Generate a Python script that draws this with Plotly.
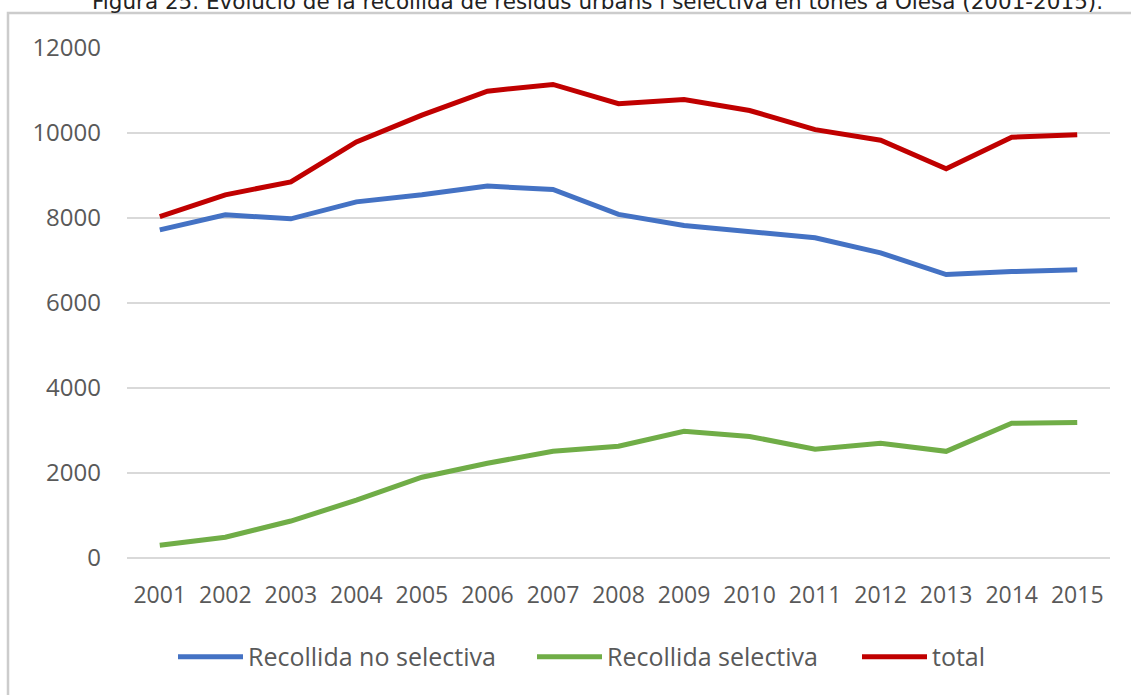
import plotly.graph_objects as go

years = [str(y) for y in range(2001, 2016)]
no_selectiva = [7720, 8075, 7980, 8380, 8545, 8752, 8670, 8086, 7825, 7670, 7535, 7180, 6670, 6740, 6780]
selectiva = [300, 490, 870, 1360, 1900, 2230, 2510, 2630, 2980, 2860, 2560, 2700, 2510, 3170, 3190]
total = [8030, 8545, 8850, 9790, 10420, 10985, 11142, 10690, 10790, 10530, 10080, 9830, 9160, 9900, 9960]
y_ticks = [0, 2000, 4000, 6000, 8000, 10000, 12000]

names = ["Recollida no selectiva", "Recollida selectiva", "total"]
colors = ["#4472C4", "#70AD47", "#C00000"]
title_text = "Figura 25. Evolució de la recollida de residus urbans i selectiva en tones a Olesa (2001-2015)."

W, H = 1131, 695
L, R, T, B = 127, 21, 47.5, 137
pw, ph = W - L - R, H - T - B

def px_x(p):
    return (p - L) / pw

def px_y(p):
    return (H - B - p) / ph

legend_ids = ["legend", "legend2", "legend3"]
legend_px = [173, 532, 857]

fig = go.Figure()
for name, vals, col, lid in zip(names, [no_selectiva, selectiva, total], colors, legend_ids):
    fig.add_trace(go.Scatter(x=years, y=vals, name=name, mode="lines", legend=lid,
                             line=dict(color=col, width=5)))

font_family = "Open Sans, Liberation Sans, sans-serif"

legend_common = dict(orientation="h", xanchor="left", y=px_y(657), yanchor="middle",
                     font=dict(size=25, color="#595959"), itemwidth=65,
                     bgcolor="rgba(0,0,0,0)", borderwidth=0)

fig.update_layout(
    width=W, height=H,
    margin=dict(l=L, r=R, t=T, b=B, autoexpand=False),
    paper_bgcolor="white", plot_bgcolor="white",
    font=dict(family=font_family, color="#595959", size=24),
    showlegend=True,
    legend=dict(x=px_x(legend_px[0]), **legend_common),
    legend2=dict(x=px_x(legend_px[1]), **legend_common),
    legend3=dict(x=px_x(legend_px[2]), **legend_common),
    xaxis=dict(type="category", range=[-0.5, len(years) - 0.5], showgrid=False, zeroline=False,
               showline=False, ticks="", automargin=False,
               tickfont=dict(size=23, color="#595959"), ticklabelstandoff=21),
    yaxis=dict(range=[0, 12000], tickvals=y_ticks, ticktext=[str(v) for v in y_ticks],
               showgrid=True, gridcolor="#D9D9D9", gridwidth=1.5, zeroline=True,
               zerolinecolor="#D9D9D9", zerolinewidth=1.5, showline=False, ticks="",
               automargin=False,
               tickfont=dict(size=24, color="#595959"), ticklabelstandoff=25),
)

fig.add_shape(type="rect", xref="paper", yref="paper",
              x0=px_x(8), x1=px_x(1145), y0=px_y(710), y1=px_y(12.5),
              line=dict(color="#CCCCCC", width=2.5), fillcolor="rgba(0,0,0,0)", layer="below")

fig.add_annotation(text=title_text, xref="paper", yref="paper",
                   x=px_x(597), y=px_y(1), xanchor="center", yanchor="middle",
                   showarrow=False, font=dict(family="DejaVu Sans, sans-serif", size=21.5, color="#222222"))

fig.write_html("out.html", config={"displayModeBar": False},
               post_script="document.body.style.margin='0';")
